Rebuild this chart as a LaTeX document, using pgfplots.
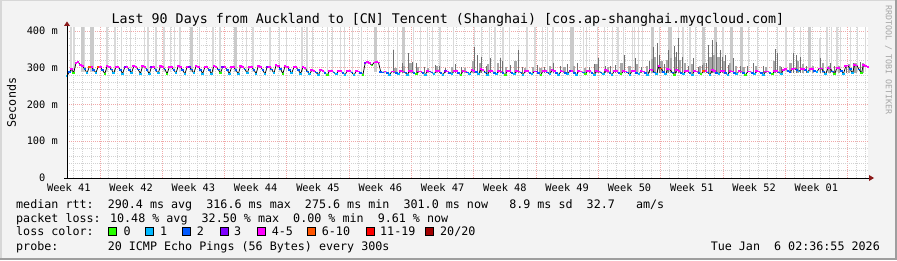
\documentclass[border=0pt]{standalone}
\usepackage{pgfplots}
\pgfplotsset{compat=1.18}
\usepackage{pgfplotstable}
\usepackage{fontspec}
\setmainfont{DejaVu Sans Mono}
\usetikzlibrary{arrows.meta}
\definecolor{bg}{HTML}{F3F3F3}
\definecolor{lc0}{HTML}{26FF00}
\definecolor{lc1}{HTML}{00B8FF}
\definecolor{lc2}{HTML}{0059FF}
\definecolor{lc3}{HTML}{7E00FF}
\definecolor{lc4}{HTML}{FF00FF}
\definecolor{lc5}{HTML}{FF5500}
\definecolor{lc6}{HTML}{FF0000}
\definecolor{lc7}{HTML}{A10000}
\definecolor{mgrid}{HTML}{F0A8A8}
\definecolor{ngrid}{HTML}{D2D2D2}
\definecolor{smokeA}{HTML}{D9D9D9}
\definecolor{smokeB}{HTML}{CACACA}
\definecolor{smokeM}{HTML}{A8A8A8}
\definecolor{smokeD}{HTML}{707070}
\definecolor{arrowred}{HTML}{8B1A1A}

\pgfplotstableread[row sep=\\]{
x y c\\
0 277 1\\ 0.25 288 2\\ 0.5 296 4\\ 0.75 286 0\\
1 312 4\\ 1.25 316 4\\ 1.5 307 4\\ 1.75 305 4\\
2 296 2\\ 2.25 285 1\\ 2.5 302 5\\ 2.75 303 4\\
3 294 2\\ 3.25 286 1\\ 3.5 303 5\\ 3.75 302 4\\
4 293 2\\ 4.25 284 0\\ 4.5 304 4\\ 4.75 303 4\\
5 295 2\\ 5.25 285 1\\ 5.5 303 4\\ 5.75 302 4\\
6 294 2\\ 6.25 284 1\\ 6.5 302 3\\ 6.75 303 4\\
7 293 2\\ 7.25 286 1\\ 7.5 304 4\\ 7.75 302 4\\
8 295 2\\ 8.25 284 1\\ 8.5 305 4\\ 8.75 303 4\\
9 294 2\\ 9.25 283 1\\ 9.5 303 3\\ 9.75 302 4\\
10 293 2\\ 10.25 285 1\\ 10.5 304 4\\ 10.75 303 4\\
11 295 2\\ 11.25 284 0\\ 11.5 302 4\\ 11.75 301 4\\
12 294 2\\ 12.25 285 1\\ 12.5 305 4\\ 12.75 303 4\\
13 293 2\\ 13.25 283 1\\ 13.5 303 4\\ 13.75 302 3\\
14 295 2\\ 14.25 285 1\\ 14.5 304 4\\ 14.75 303 4\\
15 294 2\\ 15.25 284 1\\ 15.5 302 4\\ 15.75 301 4\\
16 293 2\\ 16.25 283 1\\ 16.5 305 4\\ 16.75 303 4\\
17 295 2\\ 17.25 285 0\\ 17.5 303 3\\ 17.75 302 4\\
18 294 2\\ 18.25 284 1\\ 18.5 302 4\\ 18.75 301 4\\
19 293 2\\ 19.25 283 1\\ 19.5 304 4\\ 19.75 303 4\\
20 295 2\\ 20.25 285 1\\ 20.5 303 4\\ 20.75 302 4\\
21 294 2\\ 21.25 284 1\\ 21.5 305 4\\ 21.75 303 4\\
22 293 2\\ 22.25 283 1\\ 22.5 303 3\\ 22.75 302 4\\
23 295 2\\ 23.25 285 1\\ 23.5 307 4\\ 23.75 305 4\\
24 296 2\\ 24.25 284 0\\ 24.5 304 4\\ 24.75 303 4\\
25 294 2\\ 25.25 285 1\\ 25.5 302 4\\ 25.75 301 4\\
26 293 2\\ 26.25 284 1\\ 26.5 301 4\\ 26.75 300 4\\
27 290 2\\ 27.25 282 1\\ 27.5 293 4\\ 27.75 292 4\\
28 287 2\\ 28.25 281 1\\ 28.5 293 4\\ 28.75 292 4\\
29 286 2\\ 29.25 280 0\\ 29.5 292 4\\ 29.75 291 4\\
30 287 2\\ 30.25 282 1\\ 30.5 291 4\\ 30.75 291 4\\
31 286 2\\ 31.25 281 1\\ 31.5 292 4\\ 31.75 291 4\\
32 287 2\\ 32.25 280 1\\ 32.5 291 4\\ 32.75 290 4\\
33 286 2\\ 33.25 281 0\\ 33.5 312 3\\ 33.75 315 4\\
34 313 4\\ 34.25 306 0\\ 34.5 314 4\\ 34.75 316 4\\
35 314 4\\ 35.25 289 2\\ 35.5 287 2\\ 35.75 290 4\\
36 286 2\\ 36.25 281 1\\ 36.5 290 4\\ 36.75 290 4\\
37 286 2\\ 37.25 282 1\\ 37.5 291 4\\ 37.75 290 4\\
38 287 2\\ 38.25 281 1\\ 38.5 292 4\\ 38.75 291 4\\
39 286 2\\ 39.25 282 0\\ 39.5 290 4\\ 39.75 290 4\\
40 285 2\\ 40.25 281 1\\ 40.5 291 4\\ 40.75 290 3\\
41 287 2\\ 41.25 283 1\\ 41.5 292 4\\ 41.75 291 4\\
42 286 2\\ 42.25 281 1\\ 42.5 291 3\\ 42.75 290 4\\
43 286 2\\ 43.25 282 1\\ 43.5 292 4\\ 43.75 291 4\\
44 285 2\\ 44.25 281 0\\ 44.5 291 4\\ 44.75 290 4\\
45 287 2\\ 45.25 282 1\\ 45.5 293 4\\ 45.75 292 4\\
46 288 2\\ 46.25 283 1\\ 46.5 296 4\\ 46.75 294 4\\
47 287 2\\ 47.25 281 1\\ 47.5 292 4\\ 47.75 291 4\\
48 286 2\\ 48.25 282 1\\ 48.5 291 4\\ 48.75 290 4\\
49 285 2\\ 49.25 281 0\\ 49.5 292 4\\ 49.75 291 4\\
50 286 2\\ 50.25 282 1\\ 50.5 291 4\\ 50.75 290 4\\
51 287 2\\ 51.25 281 1\\ 51.5 292 4\\ 51.75 291 4\\
52 286 2\\ 52.25 282 1\\ 52.5 290 4\\ 52.75 290 3\\
53 285 2\\ 53.25 281 0\\ 53.5 292 4\\ 53.75 291 4\\
54 287 2\\ 54.25 282 1\\ 54.5 293 4\\ 54.75 292 4\\
55 286 2\\ 55.25 281 1\\ 55.5 291 4\\ 55.75 290 4\\
56 286 2\\ 56.25 282 1\\ 56.5 292 3\\ 56.75 291 4\\
57 285 2\\ 57.25 281 1\\ 57.5 291 4\\ 57.75 290 4\\
58 287 2\\ 58.25 282 0\\ 58.5 292 4\\ 58.75 291 4\\
59 286 2\\ 59.25 281 1\\ 59.5 291 4\\ 59.75 290 4\\
60 287 2\\ 60.25 282 1\\ 60.5 293 4\\ 60.75 292 4\\
61 286 2\\ 61.25 281 1\\ 61.5 292 4\\ 61.75 291 4\\
62 285 2\\ 62.25 282 0\\ 62.5 291 4\\ 62.75 290 4\\
63 287 2\\ 63.25 281 1\\ 63.5 292 4\\ 63.75 291 4\\
64 286 2\\ 64.25 282 1\\ 64.5 291 4\\ 64.75 290 4\\
65 285 2\\ 65.25 281 1\\ 65.5 295 4\\ 65.75 294 4\\
66 287 2\\ 66.25 283 1\\ 66.5 304 4\\ 66.75 298 5\\
67 289 2\\ 67.25 282 1\\ 67.5 297 4\\ 67.75 295 4\\
68 287 2\\ 68.25 281 0\\ 68.5 293 4\\ 68.75 292 4\\
69 286 2\\ 69.25 282 1\\ 69.5 292 4\\ 69.75 291 4\\
70 285 2\\ 70.25 281 1\\ 70.5 291 4\\ 70.75 290 4\\
71 286 2\\ 71.25 282 0\\ 71.5 292 5\\ 71.75 291 4\\
72 287 2\\ 72.25 281 1\\ 72.5 293 4\\ 72.75 292 4\\
73 286 2\\ 73.25 282 1\\ 73.5 292 4\\ 73.75 291 4\\
74 285 2\\ 74.25 281 1\\ 74.5 291 4\\ 74.75 290 4\\
75 286 2\\ 75.25 282 1\\ 75.5 291 4\\ 75.75 290 4\\
76 285 2\\ 76.25 281 0\\ 76.5 290 4\\ 76.75 290 4\\
77 286 2\\ 77.25 282 1\\ 77.5 291 4\\ 77.75 290 4\\
78 285 2\\ 78.25 281 1\\ 78.5 290 4\\ 78.75 290 4\\
79 286 2\\ 79.25 282 0\\ 79.5 291 4\\ 79.75 291 4\\
80 287 2\\ 80.25 283 1\\ 80.5 294 4\\ 80.75 296 4\\
81 292 2\\ 81.25 289 2\\ 81.5 297 4\\ 81.75 298 4\\
82 293 2\\ 82.25 290 1\\ 82.5 297 4\\ 82.75 297 4\\
83 293 2\\ 83.25 289 1\\ 83.5 297 4\\ 83.75 296 4\\
84 292 2\\ 84.25 288 1\\ 84.5 298 4\\ 84.75 298 4\\
85 290 2\\ 85.25 283 1\\ 85.5 299 4\\ 85.75 298 4\\
86 290 2\\ 86.25 282 0\\ 86.5 300 4\\ 86.75 299 4\\
87 292 2\\ 87.25 284 1\\ 87.5 304 4\\ 87.75 306 4\\
88 296 2\\ 88.25 285 1\\ 88.5 307 4\\ 88.75 306 4\\
89 295 2\\ 89.25 285 0\\ 89.5 308 4\\ 89.75 305 4\\
90 301 4\\
}\median

\pgfplotstableread[row sep=\\]{
x t\\
0.45 410\\ 0.8 410\\ 1.9 410\\ 4.5 410\\ 5.4 410\\ 6.1 410\\ 7.1 410\\ 8.7 410\\ 9.1 410\\
10.0 410\\ 10.9 410\\ 11.6 410\\ 12.1 410\\ 12.7 410\\ 14.9 410\\ 16.4 410\\ 17.2 410\\
20.2 410\\ 20.9 410\\ 22.8 410\\ 23.9 410\\ 24.7 410\\ 26.4 410\\ 26.97 410\\ 27.6 410\\
29.3 410\\ 29.8 410\\ 30.7 410\\ 31.2 410\\ 32.1 410\\ 33.1 410\\ 36.1 410\\ 37.1 410\\
38.9 410\\ 39.7 410\\ 40.5 410\\ 41.1 410\\ 41.9 410\\ 43.4 410\\ 45.8 410\\ 46.6 410\\
47.5 410\\ 48.1 410\\ 49.0 410\\ 49.7 410\\ 50.7 360\\ 51.7 410\\ 52.6 410\\ 53.4 410\\
54.0 410\\ 54.6 410\\ 55.7 410\\ 58.0 410\\ 58.4 410\\ 59.6 410\\ 60.4 410\\ 61.3 410\\
61.9 410\\ 62.5 410\\ 63.5 410\\ 63.8 410\\ 64.2 410\\ 64.7 410\\ 66.6 410\\ 68.7 410\\
69.2 410\\ 70.0 410\\ 70.6 410\\ 73.7 410\\ 76.6 410\\ 77.6 410\\ 78.7 410\\ 79.8 410\\
80.8 410\\ 81.6 410\\ 82.4 410\\ 84.6 380\\ 85.4 410\\ 85.9 410\\ 86.5 410\\ 86.9 410\\
88.0 410\\ 88.8 410\\ 89.7 410\\
}\spikesN

\pgfplotstableread[row sep=\\]{
x t\\
1.7 410\\ 2.8 410\\ 13.95 410\\ 18.9 410\\ 34.7 410\\ 37.85 410\\ 56.75 410\\ 65.8 410\\
67.75 410\\ 71.5 410\\ 72.9 410\\ 74.65 410\\ 75.75 410\\ 83.45 410\\
}\spikesW

\pgfplotstableread[row sep=\\]{
x t\\
36.9 300\\ 37.9 304\\ 38.6 312\\ 39.4 303\\ 40.6 300\\ 41.6 306\\ 43.3 302\\ 44.7 300\\
45.6 318\\ 46.4 312\\ 47.3 310\\ 48.4 314\\ 49.3 302\\ 50.4 318\\ 51.5 300\\ 52.4 303\\
53.2 300\\ 54.3 306\\ 55.9 303\\ 57.0 305\\ 58.2 300\\ 59.5 310\\ 60.8 302\\ 62.3 312\\
63.2 306\\ 64.0 310\\ 65.2 306\\ 65.7 325\\ 66.1 330\\ 66.8 318\\ 67.4 320\\ 67.9 326\\
68.4 328\\ 68.9 322\\ 69.4 312\\ 70.2 310\\ 71.1 305\\ 71.6 312\\ 72.3 330\\ 72.7 335\\
73.2 330\\ 73.8 318\\ 74.5 312\\ 75.2 306\\ 76.0 302\\ 77.4 306\\ 78.5 303\\ 79.4 318\\
80.1 304\\ 81.3 314\\ 82.1 318\\ 82.7 310\\ 83.8 306\\ 84.9 312\\ 85.6 306\\ 86.7 304\\
87.9 310\\ 88.6 314\\ 89.4 312\\
}\spikesM

\pgfplotstableread[row sep=\\]{
x t\\
36.7 348\\ 37.7 312\\ 38.4 339\\ 38.8 315\\ 39.2 314\\ 40.2 302\\ 41.4 307\\ 41.8 305\\
42.5 300\\ 43.6 309\\ 44.3 303\\ 45.8 356\\ 46.1 335\\ 46.6 330\\ 47.1 304\\ 47.6 326\\
48.7 326\\ 48.9 318\\ 49.8 307\\ 50.7 348\\ 51.2 303\\ 52.8 307\\ 53.6 301\\ 54.7 314\\
55.4 304\\ 56.2 309\\ 57.3 314\\ 58.7 302\\ 59.2 309\\ 59.7 326\\ 60.5 305\\ 61.0 305\\
61.6 307\\ 62.6 335\\ 63.9 326\\ 64.5 303\\ 65.4 318\\ 65.9 357\\ 66.3 366\\ 66.5 335\\
67.1 310\\ 67.6 348\\ 68.2 360\\ 68.5 344\\ 68.7 380\\ 69.1 330\\ 69.8 306\\ 70.4 326\\
70.9 303\\ 71.4 307\\ 71.8 312\\ 72.1 362\\ 72.5 375\\ 73.0 371\\ 73.4 347\\ 73.6 330\\
73.97 335\\ 74.3 308\\ 74.9 326\\ 75.7 305\\ 76.4 304\\ 77.1 314\\ 78.2 306\\ 79.6 350\\
79.8 340\\ 80.3 303\\ 81.6 340\\ 81.9 335\\ 82.4 330\\ 83.1 305\\ 84.6 326\\ 85.8 314\\
86.2 304\\ 87.6 307\\ 88.3 312\\ 89.1 315\\
}\spikesD

\pgfplotsset{
  losscls/.style={only marks, mark=-, mark size=1.3pt, forget plot,
    mark options={line width=1.8pt, draw=#1}},
  smoke/.style n args={2}{draw=none, mark=none, forget plot,
    error bars/.cd, y dir=plus, y explicit, error mark=none,
    error bar style={draw=#1, line width=#2}},
}

\begin{document}
\begin{tikzpicture}
\useasboundingbox (0,0) rectangle (897pt,260pt);
\fill[bg] (0,0) rectangle (897pt,260pt);
\draw[line width=1.5pt, color={rgb,255:red,215;green,215;blue,215}] (0.75pt,0) -- (0.75pt,259.25pt) -- (897pt,259.25pt);
\draw[line width=2pt, color={rgb,255:red,158;green,158;blue,158}] (0,1pt) -- (896pt,1pt) -- (896pt,260pt);

\begin{axis}[
  at={(67pt,82pt)}, anchor=south west,
  scale only axis, width=801pt, height=150.7pt,
  xmin=0, xmax=90, ymin=0, ymax=410,
  axis line style={draw=none},
  axis background/.style={fill=white},
  xtick={3.7,10.7,...,87.7}, xticklabels={},
  extra x ticks={0.2,7.2,...,84.2},
  extra x tick labels={Week 41,Week 42,Week 43,Week 44,Week 45,Week 46,Week 47,Week 48,Week 49,Week 50,Week 51,Week 52,Week 01},
  extra x tick style={grid=none},
  minor xtick={0.7,1.7,...,89.7},
  ytick={0,100,200,300,400},
  yticklabels={0\phantom{~m},100 m,200 m,300 m,400 m},
  minor ytick={20,40,...,400},
  grid=both,
  major grid style={mgrid, dash pattern=on 1pt off 1pt, line width=0.7pt},
  minor grid style={ngrid, dash pattern=on 1pt off 1pt, line width=0.7pt},
  major tick length=0pt, minor tick length=0pt,
  xticklabel style={font=\fontsize{10.3}{12}\selectfont, anchor=base, inner sep=0pt, yshift=-13pt},
  yticklabel style={font=\fontsize{10.3}{12}\selectfont, anchor=east, inner sep=0pt, xshift=-9pt},
]
\addplot[smoke={smokeA}{1.3pt}] table[x=x, y expr=288, y error expr=\thisrow{t}-288] {\spikesN};
\addplot[smoke={smokeB}{3.2pt}] table[x=x, y expr=288, y error expr=\thisrow{t}-288] {\spikesW};
\addplot[smoke={smokeM}{2.2pt}] table[x=x, y expr=287, y error expr=\thisrow{t}-287] {\spikesM};
\addplot[smoke={smokeD}{0.7pt}] table[x=x, y expr=287, y error expr=\thisrow{t}-287] {\spikesD};
\addplot[sharp plot, black, line width=0.7pt, line join=round, mark=none] table[x=x, y=y] {\median};
\addplot[losscls=lc0, restrict expr to domain={\thisrow{c}}{0:0}] table[x=x, y=y] {\median};
\addplot[losscls=lc1, restrict expr to domain={\thisrow{c}}{1:1}] table[x=x, y=y] {\median};
\addplot[losscls=lc2, restrict expr to domain={\thisrow{c}}{2:2}] table[x=x, y=y] {\median};
\addplot[losscls=lc3, restrict expr to domain={\thisrow{c}}{3:3}] table[x=x, y=y] {\median};
\addplot[losscls=lc4, restrict expr to domain={\thisrow{c}}{4:4}] table[x=x, y=y] {\median};
\addplot[losscls=lc5, restrict expr to domain={\thisrow{c}}{5:5}] table[x=x, y=y] {\median};
\end{axis}

% axes with arrows
\draw[black, line width=0.9pt] (64pt,82pt) -- (869pt,82pt);
\fill[arrowred] (869pt,79pt) -- (874pt,82pt) -- (869pt,85pt) -- cycle;
\draw[black, line width=0.9pt] (67pt,82pt) -- (67pt,234pt);
\fill[arrowred] (64pt,234pt) -- (67pt,238.5pt) -- (70pt,234pt) -- cycle;

% title and labels
\node[anchor=base, inner sep=0pt, font=\fontsize{13.3}{15}\selectfont] at (448pt,236pt)
  {Last 90 Days from Auckland to [CN] Tencent (Shanghai) [cos.ap-shanghai.myqcloud.com]};
\node[rotate=90, inner sep=0pt, font=\fontsize{11.7}{14}\selectfont] at (11.5pt,157.5pt) {Seconds};
\node[rotate=-90, inner sep=0pt, text=black!35, font=\fontsize{8.3}{10}\selectfont] at (888.5pt,200pt) {RRDTOOL / TOBI OETIKER};

\begin{scope}[every node/.style={anchor=base west, inner sep=0pt, font=\fontsize{11.7}{14}\selectfont}]
\node at (16pt,51.7pt) {median rtt:~~290.4 ms avg~~316.6 ms max~~275.6 ms min~~301.0 ms now~~~8.9 ms sd~~32.7~~~am/s};
\node at (16pt,38pt) {packet loss: 10.48 \% avg~~32.50 \% max~~0.00 \% min~~9.61 \% now};
\node at (16pt,24.3pt) {loss color:};
\node at (123.3pt,24.3pt) {0};
\node at (160pt,24.3pt) {1};
\node at (196.7pt,24.3pt) {2};
\node at (234pt,24.3pt) {3};
\node at (271.7pt,24.3pt) {4-5};
\node at (321.7pt,24.3pt) {6-10};
\node at (380pt,24.3pt) {11-19};
\node at (440pt,24.3pt) {20/20};
\node at (16pt,10pt) {probe:~~~~~~~20 ICMP Echo Pings (56 Bytes) every 300s};
\node[anchor=base east] at (880pt,10pt) {Tue Jan~~6 02:36:55 2026};
\end{scope}
\foreach \xx/\cc in {108.3/lc0,145.7/lc1,182.7/lc2,220/lc3,257/lc4,307.3/lc5,366.7/lc6,425.7/lc7}{
  \filldraw[fill=\cc, draw=black, line width=0.8pt] (\xx pt,24.5pt) rectangle ++(8pt,8pt);
}
\end{tikzpicture}
\end{document}
